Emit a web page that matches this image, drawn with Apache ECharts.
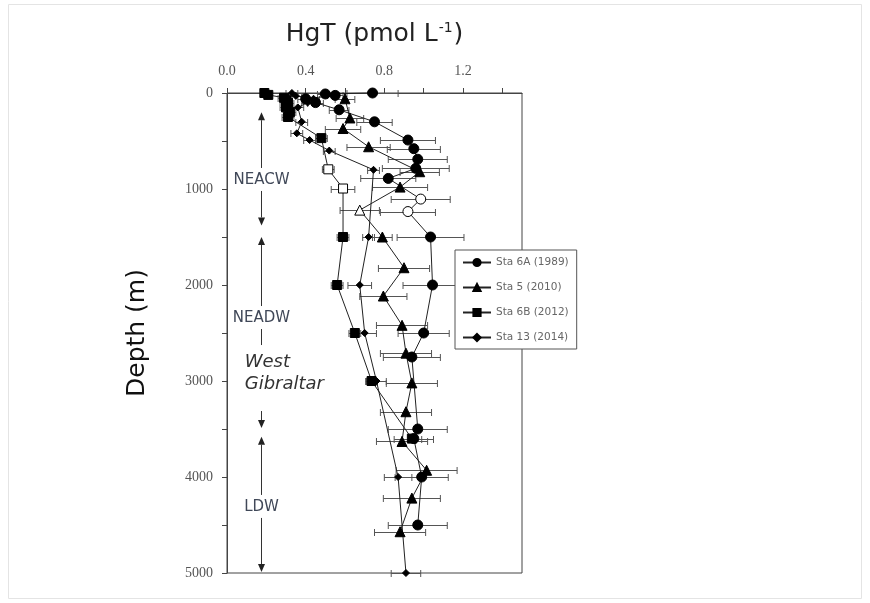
<!DOCTYPE html>
<html>
<head>
<meta charset="utf-8">
<script src="https://cdn.jsdelivr.net/npm/echarts@6/dist/echarts.min.js"></script>
<style>
  html, body { margin: 0; padding: 0; background: #fff; }
  #chart { width: 870px; height: 603px; }
</style>
</head>
<body>
<div id="chart"></div>
<script>
// HgT profiles (pmol/L) against depth (m); err = half-width of the horizontal error bar.
// *Open lists hold the depths of samples drawn with hollow markers.
const sta6aDepth = [0, 10, 25, 60, 100, 175, 300, 490, 580, 690, 785, 890, 1105, 1235, 1500, 2000, 2500, 2750, 3500, 3600, 4000, 4500];
const sta6aHgT   = [0.74, 0.50, 0.55, 0.40, 0.45, 0.57, 0.75, 0.92, 0.95, 0.97, 0.96, 0.82, 0.985, 0.92, 1.035, 1.045, 1.00, 0.94, 0.97, 0.95, 0.99, 0.97];
const sta6aErr   = [0.13, 0.04, 0.04, 0.04, 0.04, 0.05, 0.09, 0.14, 0.135, 0.15, 0.17, 0.14, 0.15, 0.14, 0.17, 0.15, 0.13, 0.145, 0.15, 0.10, 0.135, 0.15];
const sta6aOpen  = [1105, 1235];

const sta5Depth = [60, 260, 370, 560, 820, 980, 1220, 1500, 1820, 2115, 2420, 2710, 3020, 3320, 3630, 3930, 4220, 4570];
const sta5HgT   = [0.60, 0.625, 0.59, 0.72, 0.98, 0.88, 0.675, 0.79, 0.90, 0.795, 0.89, 0.91, 0.94, 0.91, 0.89, 1.015, 0.94, 0.88];
const sta5Err   = [0.05, 0.07, 0.09, 0.11, 0.10, 0.14, 0.10, 0.05, 0.13, 0.12, 0.13, 0.13, 0.13, 0.13, 0.13, 0.155, 0.145, 0.13];
const sta5Open  = [1220];

const sta6bDepth = [0, 20, 50, 75, 100, 150, 200, 250, 470, 795, 995, 1500, 2000, 2500, 3000, 3600];
const sta6bHgT   = [0.19, 0.21, 0.29, 0.30, 0.31, 0.30, 0.32, 0.31, 0.48, 0.515, 0.59, 0.59, 0.56, 0.65, 0.735, 0.94];
const sta6bErr   = [0.02, 0.02, 0.03, 0.03, 0.03, 0.03, 0.03, 0.03, 0.03, 0.03, 0.06, 0.03, 0.03, 0.03, 0.03, 0.05];
const sta6bOpen  = [795, 995];

const sta13Depth = [0, 30, 60, 100, 150, 300, 420, 490, 600, 800, 1500, 2000, 2500, 3000, 4000, 5000];
const sta13HgT   = [0.33, 0.35, 0.44, 0.41, 0.36, 0.38, 0.355, 0.42, 0.52, 0.745, 0.72, 0.675, 0.70, 0.76, 0.87, 0.91];
const sta13Err   = [0.03, 0.03, 0.03, 0.03, 0.03, 0.03, 0.03, 0.03, 0.03, 0.03, 0.03, 0.06, 0.06, 0.05, 0.07, 0.075];
const sta13Open  = [];

const stationNames = ['Sta 6A (1989)', 'Sta 5 (2010)', 'Sta 6B (2012)', 'Sta 13 (2014)'];

// Water masses along the left edge: arrow extents and label depth
const massNames  = ['NEACW', 'NEADW', 'LDW'];
const massTop    = [200, 1500, 3580];
const massBottom = [1380, 3490, 4990];
const massLabel  = [906, 2344, 4312];
const massX      = 0.173;
const regionName = 'West\nGibraltar';
const regionDepth = 2917;
const regionX    = 0.09;

// Axis ticks
const xTickStep = 0.2, xLabelStep = 0.4, xMax = 1.5;
const yTickStep = 500, yLabelStep = 1000, yMax = 5000;

const SANS = 'DejaVu Sans';

const stations = [
  { name: stationNames[0], depth: sta6aDepth, hgt: sta6aHgT, err: sta6aErr, open: sta6aOpen, symbol: 'circle',   size: 10 },
  { name: stationNames[1], depth: sta5Depth,  hgt: sta5HgT,  err: sta5Err,  open: sta5Open,  symbol: 'triangle', size: 10 },
  { name: stationNames[2], depth: sta6bDepth, hgt: sta6bHgT, err: sta6bErr, open: sta6bOpen, symbol: 'rect',     size: 9 },
  { name: stationNames[3], depth: sta13Depth, hgt: sta13HgT, err: sta13Err, open: sta13Open, symbol: 'diamond',  size: 7 }
];

function errorBar(params, api) {
  const x = api.value(0), d = api.value(1), e = api.value(2);
  const a = api.coord([x - e, d]);
  const b = api.coord([x + e, d]);
  const y = Math.round(a[1]) + 0.5;
  const cap = 3.5;
  const style = { stroke: '#555', lineWidth: 1, fill: null };
  return {
    type: 'group',
    children: [
      { type: 'line', shape: { x1: a[0], y1: y, x2: b[0], y2: y }, style },
      { type: 'line', shape: { x1: a[0], y1: y - cap, x2: a[0], y2: y + cap }, style },
      { type: 'line', shape: { x1: b[0], y1: y - cap, x2: b[0], y2: y + cap }, style }
    ]
  };
}

function waterMass(params, api) {
  const i = params.dataIndex;
  const x = api.value(0);
  const pt = api.coord([x, api.value(1)]);
  const pb = api.coord([x, api.value(2)]);
  const pl = api.coord([x, api.value(3)]);
  const cx = Math.round(pt[0]) + 0.5;
  const head = 8, hw = 3.5;
  const gaps = [[pl[1] - 12, pl[1] + 11]];
  const children = [];
  if (i === 1) {
    const pr = api.coord([regionX, regionDepth]);
    gaps.push([pr[1] - 28, pr[1] + 38]);
    children.push({
      type: 'text', x: pr[0], y: pr[1],
      style: { text: regionName, align: 'left', verticalAlign: 'middle', fontFamily: SANS,
               fontStyle: 'italic', fontSize: 18, lineHeight: 22, fill: '#333' }
    });
  }
  gaps.sort((p, q) => p[0] - q[0]);
  const lineStyle = { stroke: '#333', lineWidth: 1 };
  let y0 = pt[1] + head;
  gaps.forEach(g => {
    children.push({ type: 'line', shape: { x1: cx, y1: y0, x2: cx, y2: g[0] }, style: lineStyle });
    y0 = g[1];
  });
  children.push({ type: 'line', shape: { x1: cx, y1: y0, x2: cx, y2: pb[1] - head }, style: lineStyle });
  children.push({ type: 'polygon', shape: { points: [[cx, pt[1]], [cx - hw, pt[1] + head], [cx + hw, pt[1] + head]] }, style: { fill: '#222' } });
  children.push({ type: 'polygon', shape: { points: [[cx, pb[1]], [cx - hw, pb[1] - head], [cx + hw, pb[1] - head]] }, style: { fill: '#222' } });
  children.push({
    type: 'text', x: cx, y: pl[1],
    style: { text: massNames[i], align: 'center', verticalAlign: 'middle', fontFamily: SANS, fontSize: 15, fill: '#404858' }
  });
  return { type: 'group', children };
}

const series = [];
const errData = [];
stations.forEach(s => {
  s.depth.forEach((d, k) => errData.push([s.hgt[k], d, s.err[k]]));
});
series.push({
  type: 'custom', name: 'errors', renderItem: errorBar, data: errData, z: 2,
  encode: { x: 0, y: 1 }, silent: true, clip: false
});
stations.forEach(s => {
  series.push({
    type: 'line', name: s.name, z: 3, clip: false,
    symbol: s.symbol, symbolSize: s.size, showAllSymbol: true,
    lineStyle: { color: '#222', width: 1 },
    itemStyle: { color: '#000', borderColor: '#000', borderWidth: 1 },
    data: s.depth.map((d, k) => {
      const item = { value: [s.hgt[k], d] };
      if (s.open.indexOf(d) >= 0) item.itemStyle = { color: '#fff', borderColor: '#000', borderWidth: 1 };
      return item;
    })
  });
});
series.push({
  type: 'custom', name: 'water masses', renderItem: waterMass, z: 4, silent: true, clip: false,
  encode: { x: 0, y: 1 },
  data: massNames.map((n, i) => [massX, massTop[i], massBottom[i], massLabel[i]])
});

const chart = echarts.init(document.getElementById('chart'), null, { renderer: 'canvas' });
chart.setOption({
  backgroundColor: '#fff',
  animation: false,
  graphic: [{
    type: 'rect', shape: { x: 8.5, y: 4.5, width: 853, height: 594 },
    style: { fill: null, stroke: '#e4e4e4', lineWidth: 1 }, silent: true, z: -1
  }],
  grid: { left: 227, right: 348, top: 93, bottom: 30, show: true, borderColor: '#444', borderWidth: 1, backgroundColor: 'transparent' },
  legend: {
    orient: 'vertical', left: 455, top: 250,
    data: stationNames,
    itemWidth: 28, itemHeight: 9, itemGap: 14,
    padding: [7, 8, 6, 7],
    borderColor: '#555', borderWidth: 1, backgroundColor: '#fff',
    textStyle: { fontFamily: SANS, fontSize: 10.5, color: '#666' }
  },
  xAxis: {
    type: 'value', position: 'top', min: 0, max: xMax, interval: xTickStep,
    name: '{t|HgT (pmol L}{s|-1}{t|)}',
    nameLocation: 'middle', nameGap: 46,
    nameTextStyle: {
      rich: {
        t: { fontFamily: SANS, fontSize: 25, color: '#222' },
        s: { fontFamily: SANS, fontSize: 14, color: '#222', verticalAlign: 'top', padding: [0, 1, 12, 1] }
      }
    },
    axisLine: { show: true, lineStyle: { color: '#444' } },
    axisTick: { show: true, inside: false, length: 5, lineStyle: { color: '#444' } },
    axisLabel: {
      margin: 15, fontFamily: 'Liberation Serif', fontSize: 14, color: '#555',
      formatter: v => (Math.round(v * 10) % Math.round(xLabelStep * 10) === 0 ? v.toFixed(1) : ''),
      showMaxLabel: false
    },
    splitLine: { show: false }
  },
  yAxis: {
    type: 'value', inverse: true, min: 0, max: yMax, interval: yTickStep,
    name: 'Depth (m)', nameLocation: 'middle', nameGap: 77,
    nameTextStyle: { fontFamily: SANS, fontSize: 25, color: '#111' },
    axisLine: { show: true, lineStyle: { color: '#444' } },
    axisTick: { show: true, inside: false, length: 5, lineStyle: { color: '#444' } },
    axisLabel: {
      margin: 14, fontFamily: 'Liberation Serif', fontSize: 14, color: '#555',
      formatter: v => (v % yLabelStep === 0 ? String(v) : '')
    },
    splitLine: { show: false }
  },
  series
});
</script>
</body>
</html>
